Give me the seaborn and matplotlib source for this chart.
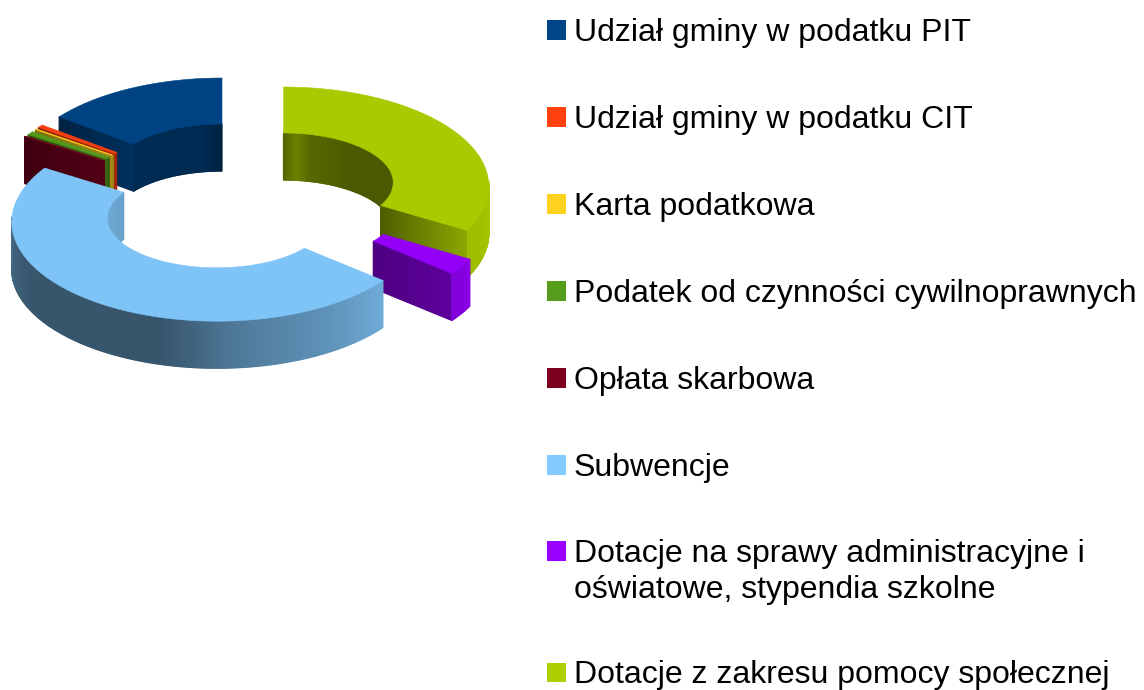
import numpy as np
import matplotlib
matplotlib.use("Agg")
import matplotlib.pyplot as plt
from matplotlib.collections import PolyCollection
from matplotlib.patches import Rectangle
import seaborn as sns

# data, shares in percent, counter clockwise from 12 o'clock
labels = ["Udział gminy w podatku PIT", "Udział gminy w podatku CIT", "Karta podatkowa",
          "Podatek od czynności cywilnoprawnych", "Opłata skarbowa", "Subwencje",
          "Dotacje na sprawy administracyjne i\noświatowe, stypendia szkolne",
          "Dotacje z zakresu pomocy społecznej"]
shares = [15.22, 0.5, 0.14, 0.6, 0.08, 47.8, 2.61, 33.05]
colors = ["#004586", "#ff420e", "#ffd320", "#579d1c", "#7e0021", "#83caff", "#9900ff", "#aecf00"]

# layout: centre of every exploded slice, in pixels
center_x = [222, 205, 203, 200, 197, 217, 286, 283.5]
center_y = [172.3, 180.5, 182, 184, 185.5, 217, 210, 181.3]
cut_left = [0.5, 0.5, 0.5, 0.5, 0.5, 0.6, 0.5, 0.45]
cut_right = [0.7, 0.65, 0.65, 0.65, 0.65, 0.8, 0.62, 0.8]
draw_order = [0, 1, 2, 3, 4, 7, 6, 5]
legend_base = [41, 128, 215, 302, 389, 476, 562, 683.5]

RX, RY = 205, 99
FX, FY = 0.535, 0.5   # hole size relative to the outer ring
PERSP = 0.05
DEPTH = 47
TOP = 0.97

sns.set_theme(style="white")
plt.rcParams["font.family"] = ["Liberation Sans", "DejaVu Sans"]
palette = sns.color_palette(colors)

fig, ax = plt.subplots(figsize=(11.44, 6.9), dpi=100)
ax.set_position([0, 0, 1, 1])
ax.set_xlim(0, 1144)
ax.set_ylim(690, 0)
ax.axis("off")


def outer_shade(a):
    return np.interp(a, [90, 120, 130, 150, 170, 178, 186, 196, 240, 270],
                     [0.97, 0.9, 0.84, 0.72, 0.63, 0.58, 0.5, 0.42, 0.42, 0.52])


def inner_shade(a):
    a = (a + 180) % 360 - 180
    return np.interp(a, [-90, -60, -58, -10, 0, 7, 15, 40, 90],
                     [0.85, 0.8, 0.62, 0.62, 0.48, 0.62, 0.5, 0.43, 0.43])


def point(cx, cy, a, inner=False):
    t = np.radians(a)
    fx, fy = (FX, FY) if inner else (1, 1)
    w = 1 + PERSP * fy * np.cos(t)
    return cx + RX * fx * np.sin(t) / w, cy - RY * fy * np.cos(t) / w


def quads(polys, cols):
    # wide edges so neighbouring strips overlap and leave no seams
    ax.add_collection(PolyCollection(polys, facecolors=cols, edgecolors=cols, linewidths=0.9))


def wall(cx, cy, a0, a1, inner, base, shade):
    if a1 <= a0:
        return
    steps = np.linspace(a0, a1, max(2, int(a1 - a0) * 2 + 2))
    polys, cols = [], []
    for s0, s1 in zip(steps[:-1], steps[1:]):
        x0, y0 = point(cx, cy, s0, inner)
        x1, y1 = point(cx, cy, s1, inner)
        polys.append([(x0, y0), (x1, y1), (x1, y1 + DEPTH), (x0, y0 + DEPTH)])
        cols.append(np.array(base) * shade((s0 + s1) / 2))
    quads(polys, cols)


def cut(cx, cy, a, base, left, right):
    xo, yo = point(cx, cy, a)
    xi, yi = point(cx, cy, a, True)
    if xi < xo:
        xo, yo, xi, yi = xi, yi, xo, yo
    ts = np.linspace(0, 1, 31)
    polys, cols = [], []
    for t0, t1 in zip(ts[:-1], ts[1:]):
        x0, y0 = xo + (xi - xo) * t0, yo + (yi - yo) * t0
        x1, y1 = xo + (xi - xo) * t1, yo + (yi - yo) * t1
        polys.append([(x0, y0), (x1, y1), (x1, y1 + DEPTH), (x0, y0 + DEPTH)])
        cols.append(np.array(base) * (left + (right - left) * (t0 + t1) / 2))
    quads(polys, cols)


# angles measured clockwise from the top
ends = 360 - np.cumsum([0] + shares[:-1]) * 3.6
starts = ends - np.array(shares) * 3.6

for i in draw_order:
    cx, cy = center_x[i], center_y[i]
    a0, a1 = starts[i], ends[i]
    base = palette[i]

    # inner wall, back half only
    if a0 < 90:
        wall(cx, cy, a0, min(a1, 90), True, base, inner_shade)
    if a1 > 270:
        wall(cx, cy, max(a0, 270), a1, True, base, inner_shade)

    # radial cuts that face the viewer
    if np.sin(np.radians(a0)) < -0.01:
        cut(cx, cy, a0, base, cut_left[i], cut_right[i])
    if np.sin(np.radians(a1)) > 0.01:
        cut(cx, cy, a1, base, cut_left[i], cut_right[i])

    # outer wall, front half only
    wall(cx, cy, max(a0, 90), min(a1, 270), False, base, outer_shade)

    # top face
    arc = np.linspace(a0, a1, max(3, int(a1 - a0) * 2 + 2))
    xo, yo = point(cx, cy, arc)
    xi, yi = point(cx, cy, arc[::-1], True)
    ax.fill(np.r_[xo, xi], np.r_[yo, yi], color=np.array(base) * TOP, lw=0.4)

# legend
for lab, col, y in zip(labels, palette, legend_base):
    ax.add_patch(Rectangle((547, y - 21), 19, 19.5, facecolor=col, edgecolor="none"))
    ax.text(574, y, lab.split("\n")[0], fontsize=23.05, va="baseline", ha="left", color="black")
    if "\n" in lab:
        ax.text(574, y + 36, lab.split("\n")[1], fontsize=23.05, va="baseline", ha="left", color="black")

fig.savefig("out.png", dpi=100)
